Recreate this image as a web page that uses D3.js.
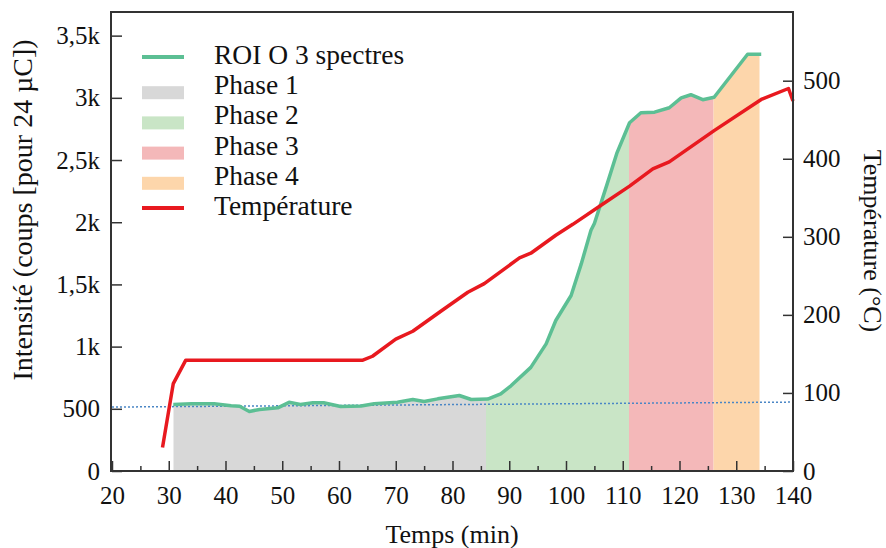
<!DOCTYPE html>
<html>
<head>
<meta charset="utf-8">
<script src="https://cdn.jsdelivr.net/npm/d3@7"></script>
<style>
  body { margin: 0; background: #fff; }
  svg text { font-family: "Liberation Serif", "Times New Roman", serif; fill: #111; }
</style>
</head>
<body>
<svg id="svg" width="886" height="548"></svg>
<script>
// ROI O 3 spectres (min, coups)
const roiTime = [30.8, 34, 38, 41, 42.5, 44.2, 46, 49.2, 51.2, 53.2, 55.4, 57.3, 60.3, 63.9, 66.2, 70.3, 73, 75, 77.4, 81.2, 83.3, 86.2, 88.5, 90.3, 93.8, 96.5, 98.2, 100.9, 102.7, 104.4, 105, 107.2, 109, 111.2, 113.2, 115.6, 118.2, 120.3, 122, 124.1, 126.1, 132, 134.4];
const roiCounts = [535, 540, 540, 525, 520, 478, 495, 508, 552, 535, 548, 548, 518, 522, 540, 553, 575, 558, 580, 607, 575, 578, 620, 685, 833, 1022, 1210, 1411, 1667, 1935, 1990, 2300, 2560, 2800, 2880, 2885, 2920, 3000, 3025, 2985, 3005, 3350, 3350];

// Température (min, °C)
const tempTime = [28.9, 30.8, 33, 64.2, 65.9, 70, 73, 78, 82.7, 85.6, 91.8, 93.8, 98.2, 101.2, 106.5, 111.2, 115.3, 118.2, 126.1, 134.4, 139.2, 140];
const tempValues = [30, 112, 142, 142, 147, 169, 179, 205, 229, 240, 273, 279, 302, 316, 342, 365, 387, 396, 436, 476, 490, 474];

// ligne de base pointillée
const baseTime = [20, 140];
const baseCounts = [514, 554];

const phaseNames = ["Phase 1", "Phase 2", "Phase 3", "Phase 4"];
const phaseStart = [30.8, 85.9, 111.1, 126.0];
const phaseEnd = [85.9, 111.1, 126.0, 134.1];
const phaseColors = ["#d8d8d8", "#c9e5c6", "#f4b8b9", "#fdd6ab"];

const xTicks = [20, 30, 40, 50, 60, 70, 80, 90, 100, 110, 120, 130, 140];
const xMinor = [25, 35, 45, 55, 65, 75, 85, 95, 105, 115, 125, 135];
const yTicks = [0, 500, 1000, 1500, 2000, 2500, 3000, 3500];
const yLabels = ["0", "500", "1k", "1,5k", "2k", "2,5k", "3k", "3,5k"];
const tTicks = [0, 100, 200, 300, 400, 500];

const roiColor = "#5cbf94";
const tempColor = "#e8191f";

const svg = d3.select("#svg");
const plotLeft = 112, plotRight = 793, plotTop = 12, plotBottom = 471;

const x = d3.scaleLinear().domain([20, 140]).range([plotLeft, plotRight]);
const y = d3.scaleLinear().domain([0, 3690]).range([plotBottom, plotTop]);
const yT = d3.scaleLinear().domain([0, 588]).range([plotBottom, plotTop]);

const roi = roiTime.map((t, i) => ({ t, v: roiCounts[i] }));
const temp = tempTime.map((t, i) => ({ t, v: tempValues[i] }));

// zones des phases (aire sous la courbe, découpée par phase)
const defs = svg.append("defs");
phaseNames.forEach((p, i) => {
    defs.append("clipPath").attr("id", "clip" + i)
        .append("rect")
        .attr("x", x(phaseStart[i]))
        .attr("y", plotTop)
        .attr("width", x(phaseEnd[i]) - x(phaseStart[i]))
        .attr("height", plotBottom - plotTop);
});
const area = d3.area().x(d => x(d.t)).y0(y(0)).y1(d => y(d.v));
phaseNames.forEach((p, i) => {
    svg.append("path")
        .datum(roi)
        .attr("d", area)
        .attr("fill", phaseColors[i])
        .attr("clip-path", "url(#clip" + i + ")");
});

// ligne pointillée
svg.append("line")
    .attr("x1", x(baseTime[0])).attr("y1", y(baseCounts[0]))
    .attr("x2", x(baseTime[1])).attr("y2", y(baseCounts[1]))
    .style("stroke", "#4a86c5")
    .style("stroke-width", 1.5)
    .style("stroke-dasharray", "2, 2");

// courbes
svg.append("path")
    .datum(roi)
    .attr("d", d3.line().x(d => x(d.t)).y(d => y(d.v)))
    .attr("fill", "none")
    .attr("stroke", roiColor)
    .attr("stroke-width", 3.5)
    .attr("stroke-linejoin", "round");

svg.append("path")
    .datum(temp)
    .attr("d", d3.line().x(d => x(d.t)).y(d => yT(d.v)))
    .attr("fill", "none")
    .attr("stroke", tempColor)
    .attr("stroke-width", 3.5)
    .attr("stroke-linejoin", "round");

// axes
const styleAxis = g => {
    g.select(".domain").remove();
    g.selectAll(".tick line").attr("stroke", "#333").attr("stroke-width", 1.5);
    g.selectAll(".tick text").style("font-size", "25px").attr("fill", "#111");
};

svg.append("g")
    .attr("transform", `translate(0,${plotBottom})`)
    .call(d3.axisBottom(x).tickValues(xTicks).tickSize(-10).tickPadding(15).tickFormat(d3.format("d")))
    .call(styleAxis);

svg.append("g")
    .attr("transform", `translate(0,${plotBottom})`)
    .call(d3.axisBottom(x).tickValues(xMinor).tickSize(-5).tickFormat(""))
    .call(styleAxis);

svg.append("g")
    .attr("transform", `translate(${plotLeft},0)`)
    .call(d3.axisLeft(y).tickValues(yTicks).tickSize(-10).tickPadding(12)
        .tickFormat((d, i) => yLabels[i]))
    .call(styleAxis);

svg.append("g")
    .attr("transform", `translate(${plotRight},0)`)
    .call(d3.axisRight(yT).tickValues(tTicks).tickSize(-10).tickPadding(10).tickFormat(d3.format("d")))
    .call(styleAxis);

// cadre
svg.append("rect")
    .attr("x", plotLeft - 1).attr("y", plotTop)
    .attr("width", plotRight - plotLeft + 1).attr("height", plotBottom - plotTop)
    .attr("fill", "none")
    .attr("stroke", "#333")
    .attr("stroke-width", 2);

// titres des axes
svg.append("text")
    .attr("transform", `translate(452,543)`)
    .attr("text-anchor", "middle")
    .style("font-size", "26px")
    .text("Temps (min)");

svg.append("text")
    .attr("transform", `translate(32,210) rotate(-90)`)
    .attr("text-anchor", "middle")
    .style("font-size", "28px")
    .text("Intensité (coups [pour 24 µC])");

svg.append("text")
    .attr("transform", `translate(864,241) rotate(90)`)
    .attr("text-anchor", "middle")
    .style("font-size", "26px")
    .text("Température (°C)");

// légende
const legendItems = [
    { label: "ROI O 3 spectres", type: "line", color: roiColor },
    ...phaseNames.map((p, i) => ({ label: p, type: "rect", color: phaseColors[i] })),
    { label: "Température", type: "line", color: tempColor }
];
const legend = svg.append("g").attr("transform", "translate(142,64)");
legendItems.forEach((d, i) => {
    const row = legend.append("g").attr("transform", `translate(0,${i * 30.2})`);
    if (d.type === "line") {
        row.append("line")
            .attr("x1", 0).attr("x2", 42)
            .attr("y1", -7).attr("y2", -7)
            .attr("stroke", d.color)
            .attr("stroke-width", 4);
    } else {
        row.append("rect")
            .attr("x", 0).attr("y", -8)
            .attr("width", 42).attr("height", 13)
            .attr("fill", d.color);
    }
    row.append("text")
        .attr("x", 72)
        .style("font-size", "27.5px")
        .text(d.label);
});
</script>
</body>
</html>
